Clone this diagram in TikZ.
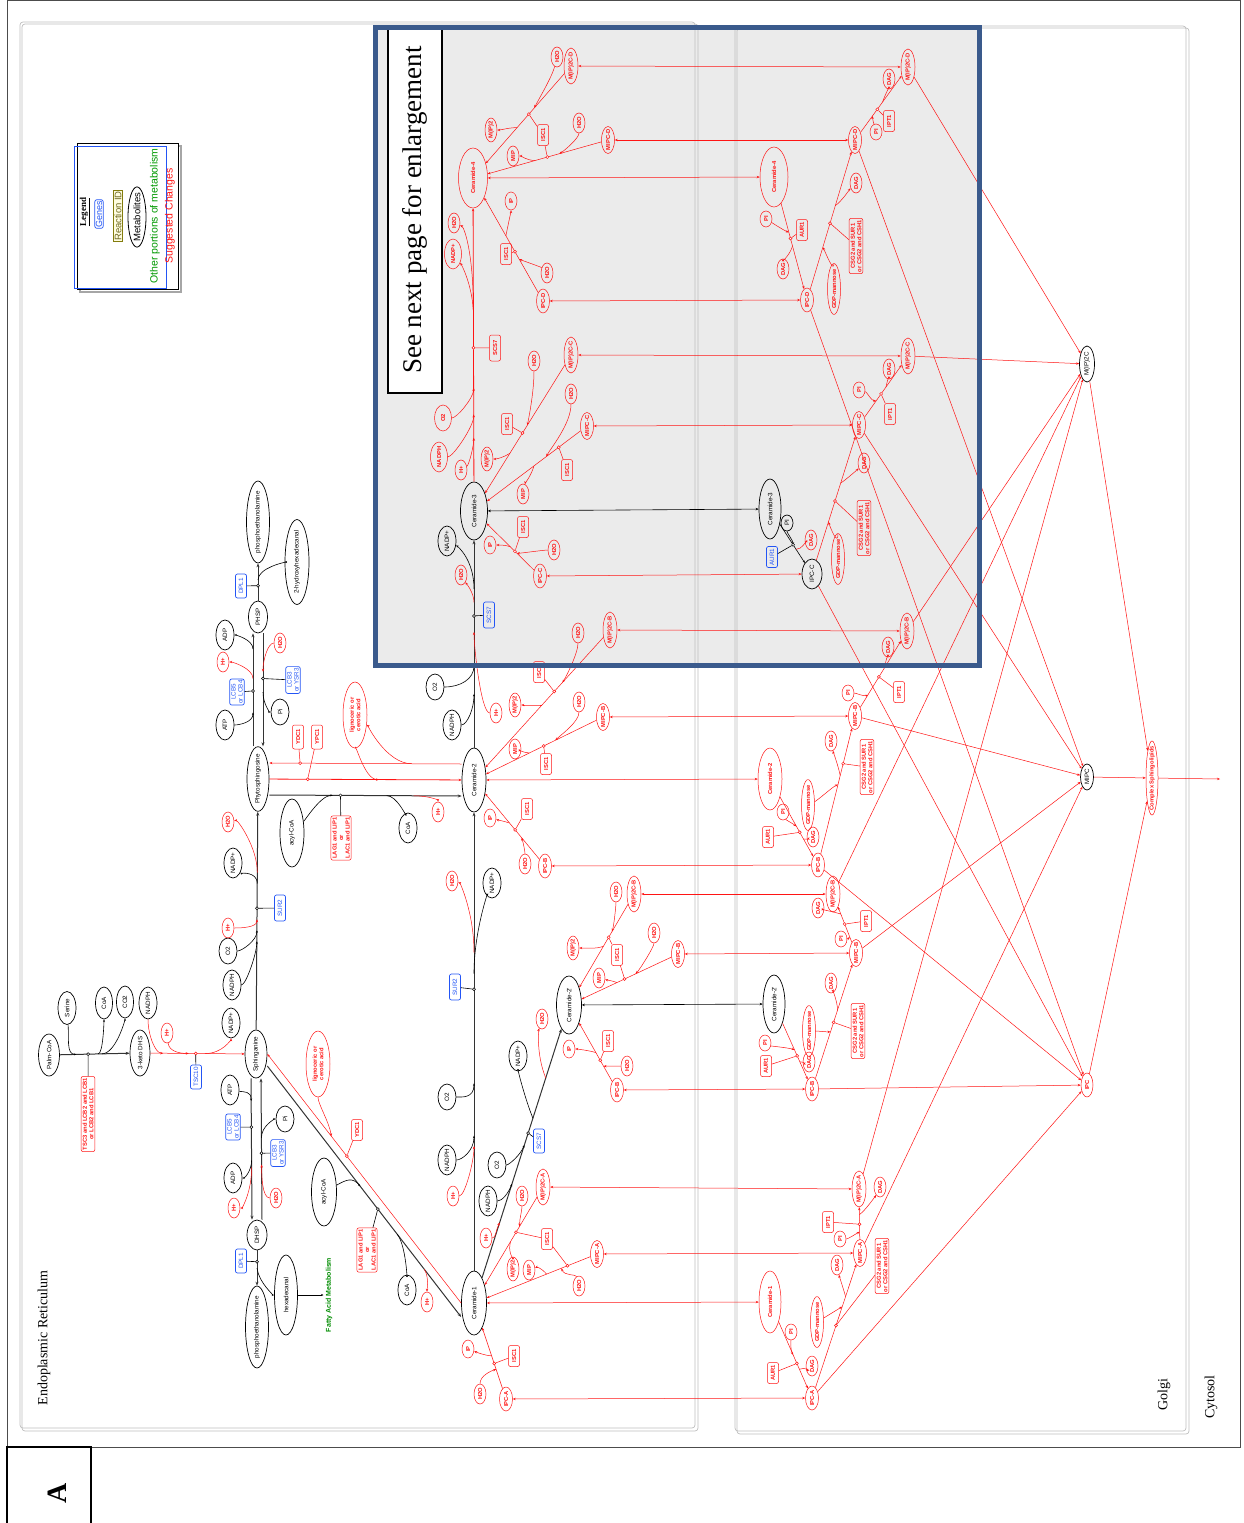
\documentclass[tikz,border=0pt]{standalone}
\usepackage{fontspec}
\setmainfont{Liberation Sans}
\newfontfamily\timesfont{Liberation Serif}
\usetikzlibrary{shapes.geometric, arrows.meta, calc}
\definecolor{sugRed}{RGB}{255,20,20}
\definecolor{geneBlue}{RGB}{35,85,245}
\definecolor{boxGray}{RGB}{235,235,235}
\definecolor{boxBlue}{RGB}{58,90,140}
\definecolor{frameGray}{RGB}{190,190,190}

\begin{document}
\begin{tikzpicture}[
  x=1pt, y=-1pt,
  met/.style={ellipse, draw, line width=0.7pt, rotate=90, font=\fontsize{6.3}{7}\selectfont,
              inner xsep=-2pt, inner ysep=0pt, minimum width=30pt, minimum height=18pt},
  rmet/.style={ellipse, draw=sugRed, line width=0.5pt, rotate=90, text=sugRed, align=center,
               font=\fontsize{5.8}{6.5}\selectfont\bfseries, inner xsep=-2pt, inner ysep=0pt,
               minimum width=20pt, minimum height=12pt},
  ipcs/.style={rmet, minimum width=24pt, minimum height=13pt},
  mipcs/.style={rmet, minimum width=27pt, minimum height=13pt},
  m2cs/.style={rmet, minimum width=36pt, minimum height=14pt},
  gdps/.style={rmet, minimum width=50pt, minimum height=13pt},
  gene/.style={rectangle, rounded corners=2pt, draw=geneBlue, line width=0.7pt, text=geneBlue,
               rotate=90, font=\fontsize{6.3}{7}\selectfont, align=center, inner sep=1.5pt,
               minimum width=24pt, minimum height=11pt},
  rgene/.style={rectangle, rounded corners=2pt, draw=sugRed, line width=0.5pt, text=sugRed,
                rotate=90, font=\fontsize{5.8}{6.5}\selectfont\bfseries, align=center,
                inner sep=1.5pt, minimum width=21pt, minimum height=11pt},
  rxdot/.style={circle, draw, fill=white, inner sep=0pt, minimum size=3pt, line width=0.5pt},
  rxrdot/.style={rxdot, draw=sugRed},
  arr/.style={-{Stealth[length=4pt,width=3pt]}, line width=1pt, black!80},
  barr/.style={{Stealth[length=3pt,width=2.5pt]}-{Stealth[length=3pt,width=2.5pt]}, line width=0.6pt},
  sarr/.style={-{Stealth[length=2.5pt,width=2pt]}, line width=0.6pt},
  rarr/.style={-{Stealth[length=3pt,width=2.4pt]}, sugRed, line width=0.5pt},
  rboth/.style={{Stealth[length=3pt,width=2.4pt]}-{Stealth[length=3pt,width=2.4pt]}, sugRed, line width=0.5pt},
  gl/.style={line width=0.6pt},
  rgl/.style={sugRed, line width=0.5pt},
]
\useasboundingbox (0,0) rectangle (1243,1523);

%% Frames
\fill[boxGray] (373,25) rectangle (982,668);
\draw[black!70, line width=0.8pt] (7,0.5) rectangle (1240,1447);
\draw[black, line width=1.2pt] (7,1447) rectangle (91,1530);
\draw[frameGray, line width=0.7pt, rounded corners=3pt] (20,22) rectangle (695,1428);
\draw[frameGray, line width=0.7pt, rounded corners=3pt] (22,24) rectangle (698,1431);
\draw[frameGray, line width=0.7pt, rounded corners=3pt] (735,26) rectangle (1186,1431);
\draw[frameGray, line width=0.7pt, rounded corners=3pt] (737,28) rectangle (1189,1434);

\node[rotate=90, font=\timesfont\fontsize{14}{16}\selectfont] (erLabel) at (44,1338) {Endoplasmic Reticulum};
\node[rotate=90, font=\timesfont\fontsize{14}{16}\selectfont] (golgiLabel) at (1164,1395) {Golgi};
\node[rotate=90, font=\timesfont\fontsize{14}{16}\selectfont] (cytoLabel) at (1211,1397) {Cytosol};
\node[rotate=90, font=\timesfont\bfseries\fontsize{28}{30}\selectfont] (panelA) at (57,1493) {A};

%% Legend
\draw[black!35, line width=1.5pt] (80,146) rectangle (181,292);
\draw[fill=white, line width=0.8pt] (77,143) rectangle (178,289);
\draw[geneBlue, line width=0.8pt] (74,146) rectangle (166,288);
\node[rotate=90, font=\timesfont\bfseries\fontsize{9}{10}\selectfont] (lgTitle) at (85,212) {\underline{Legend}};
\node[gene, font=\fontsize{9}{10}\selectfont, inner sep=1pt, minimum width=0pt, minimum height=0pt] (lgGene) at (99,214) {Genes};
\node[rotate=90, draw=olive!90!black, fill=yellow!12, text=olive!70!black, line width=0.8pt,
      font=\fontsize{9.5}{10}\selectfont, inner sep=1pt] (lgRxn) at (118,216) {Reaction ID};
\node[ellipse, draw, line width=0.8pt, rotate=90, font=\fontsize{9.5}{10}\selectfont,
      inner xsep=-3pt, inner ysep=0pt, minimum height=18pt] (lgMet) at (137,217) {Metabolites};
\node[rotate=90, text=green!60!black, font=\fontsize{10.5}{11}\selectfont] (lgOther) at (155,216) {Other portions of metabolism};
\node[rotate=90, text=sugRed, font=\fontsize{10.5}{11}\selectfont] (lgSug) at (170,216) {Suggested Changes};

%% Sphingoid base synthesis
\node[met, minimum width=42pt, minimum height=21pt] (palm) at (49,1055) {Palm-CoA};
\node[met, minimum width=33pt] (serine) at (67,1008) {Serine};
\node[met, minimum width=32pt, minimum height=17pt] (coa0) at (104,1003) {CoA};
\node[met, minimum width=32pt, minimum height=17pt] (co2) at (125,1002) {CO2};
\node[met, minimum width=32pt] (nadph0) at (148,1003) {NADPH};
\node[met, minimum width=46pt, minimum height=20pt] (kdhs) at (140,1053) {3-keto DHS};
\node[rgene] (tsc3) at (88,1114) {TSC3 and LCB2 and LCB1\\or LCB2 and LCB1};
\node[gene] (tsc10) at (196,1077) {TSC10};
\node[rmet] (hp0) at (167,1033) {H+};
\node[met] (nadp0) at (231,1023) {NADP+};
\node[met, minimum width=48pt, minimum height=22pt] (sa) at (256,1054) {Sphinganine};

\draw[arr] (palm) -- (kdhs);
\draw[sarr] (serine) .. controls +(2,30) and +(-10,0) .. ($(palm)!0.3!(kdhs)$);
\draw[sarr] ($(palm)!0.54!(kdhs)$) .. controls +(5,0) and +(0,18) .. (coa0);
\draw[sarr] ($(palm)!0.58!(kdhs)$) .. controls +(14,0) and +(0,18) .. (co2);
\node[rxdot] (dT0) at ($(palm)!0.43!(kdhs)$) {};
\draw[gl] (dT0) -- (tsc3);
\draw[rarr] (kdhs) -- (sa);
\draw[rarr] (nadph0) .. controls +(0,32) and +(-8,0) .. ($(kdhs)!0.2!(sa)$);
\draw[rarr] (hp0) .. controls +(2,18) and +(-10,0) .. ($(kdhs)!0.42!(sa)$);
\draw[rarr] ($(kdhs)!0.56!(sa)$) .. controls +(18,0) and +(0,16) .. (nadp0);
\node[rxrdot] (dT1) at ($(kdhs)!0.48!(sa)$) {};
\draw[gl] (dT1) -- (tsc10);

%% Sphinganine <-> DHSP
\node[met, minimum width=30pt] (atp1) at (230,1090) {ATP};
\node[gene] (lcb5a) at (233,1127) {LCB5\\or LCB4};
\node[met, minimum width=30pt] (adp1) at (233,1178) {ADP};
\node[rmet] (hp1) at (234,1208) {H+};
\node[met, minimum width=26pt] (pi1) at (285,1119) {Pi};
\node[gene] (lcb3a) at (278,1153) {LCB3\\or YSR3};
\node[rmet] (w1) at (276,1198) {H2O};
\node[met, minimum width=30pt, minimum height=20pt] (dhsp) at (257,1235) {DHSP};

\coordinate (saL) at ([xshift=-5pt]sa.west);
\coordinate (dhL) at ([xshift=-5pt]dhsp.east);
\coordinate (saR) at ([xshift=5pt]sa.west);
\coordinate (dhR) at ([xshift=5pt]dhsp.east);
\draw[arr] (saL) -- (dhL);
\draw[arr] (dhR) -- (saR);
\draw[sarr] (atp1) .. controls +(14,2) and +(0,-10) .. ($(saL)!0.16!(dhL)$);
\draw[sarr] ($(saL)!0.58!(dhL)$) .. controls +(0,10) and +(12,0) .. (adp1);
\draw[rarr] ($(saL)!0.63!(dhL)$) .. controls +(0,25) and +(8,0) .. (hp1);
\node[rxdot] (dL1) at ($(saL)!0.345!(dhL)$) {};
\draw[gl] (lcb5a) -- (dL1);
\draw[rarr] (w1) .. controls +(-14,0) and +(0,10) .. ($(dhR)!0.39!(saR)$);
\draw[sarr] ($(dhR)!0.58!(saR)$) .. controls +(0,-12) and +(-10,0) .. (pi1);
\node[rxdot] (dR1) at ($(dhR)!0.47!(saR)$) {};
\draw[gl] (lcb3a) -- (dR1);

\node[gene] (dpl1a) at (241,1261) {DPL1};
\node[met, minimum width=80pt, minimum height=23pt] (pea1) at (257,1327) {phosphoethanolamine};
\node[met, minimum width=80pt, minimum height=23pt] (hexa) at (286,1295) {hexadecanal};
\node[rotate=90, text=green!55!black, font=\fontsize{7}{8}\selectfont\bfseries, inner sep=2pt] (fam) at (329,1295) {Fatty Acid Metabolism};
\draw[arr, line width=0.8pt] (dhsp) -- (pea1);
\draw[sarr] ($(dhsp)!0.36!(pea1)$) .. controls +(2,15) and +(-12,0) .. (hexa);
\node[rxdot] (dD1) at ($(dhsp)!0.29!(pea1)$) {};
\draw[gl] (dpl1a) -- (dD1);
\draw[sarr] (hexa) -- (fam);

%% Sphinganine -> Phytosphingosine
\node[met, minimum width=62pt, minimum height=22pt] (phs) at (258,779) {Phytosphingosine};
\node[met, minimum width=30pt] (nadph1) at (232,985) {NADPH};
\node[met, minimum width=26pt] (o2a) at (228,951) {O2};
\node[rmet] (hp2) at (228,928) {H+};
\node[gene, minimum width=26pt] (sur2a) at (280,908) {SUR2};
\node[met, minimum width=30pt] (nadp1) at (233,863) {NADP+};
\node[rmet] (w2) at (228,822) {H2O};
\draw[arr] (sa) -- (phs);
\draw[sarr] (nadph1) .. controls +(14,0) and +(0,12) .. ($(sa)!0.41!(phs)$);
\draw[sarr] (o2a) .. controls +(14,0) and +(0,10) .. ($(sa)!0.45!(phs)$);
\draw[rarr] (hp2) .. controls +(14,0) and +(0,8) .. ($(sa)!0.49!(phs)$);
\draw[sarr] ($(sa)!0.62!(phs)$) .. controls +(0,-12) and +(8,10) .. (nadp1);
\draw[rarr] ($(sa)!0.66!(phs)$) .. controls +(0,-25) and +(10,-2) .. (w2);
\node[rxdot] (dP1) at ($(sa)!0.53!(phs)$) {};
\draw[gl] (sur2a) -- (dP1);

%% Phytosphingosine <-> PHSP
\node[met, minimum width=32pt, minimum height=19pt] (phsp) at (258,617) {PHSP};
\node[met, minimum width=30pt] (atp2) at (225,725) {ATP};
\node[gene] (lcb5b) at (237,692) {LCB5\\or LCB4};
\node[met, minimum width=30pt] (adp2) at (225,635) {ADP};
\node[rmet] (hp3) at (223,662) {H+};
\node[rmet] (w3) at (280,643) {H2O};
\node[gene] (lcb3b) at (293,680) {LCB3\\or YSR3};
\node[met, minimum width=26pt] (pi2) at (280,712) {Pi};
\coordinate (phL) at ([xshift=-5pt]phs.east);
\coordinate (psL) at ([xshift=-5pt]phsp.west);
\coordinate (phR) at ([xshift=5pt]phs.east);
\coordinate (psR) at ([xshift=5pt]phsp.west);
\draw[arr] (phL) -- (psL);
\draw[arr] (psR) -- (phR);
\draw[sarr] (atp2) .. controls +(14,0) and +(0,10) .. ($(phL)!0.3!(psL)$);
\draw[rarr] ($(phL)!0.6!(psL)$) .. controls +(0,-10) and +(10,0) .. (hp3);
\draw[sarr] ($(phL)!0.86!(psL)$) .. controls +(0,-10) and +(10,0) .. (adp2);
\node[rxdot] (dL2) at ($(phL)!0.49!(psL)$) {};
\draw[gl] (lcb5b) -- (dL2);
\draw[rarr] (w3) .. controls +(-12,0) and +(0,-12) .. ($(psR)!0.34!(phR)$);
\draw[sarr] ($(psR)!0.52!(phR)$) .. controls +(0,12) and +(-10,0) .. (pi2);
\node[rxdot] (dR2) at ($(psR)!0.4!(phR)$) {};
\draw[gl] (lcb3b) -- (dR2);

\node[gene] (dpl1b) at (241,586) {DPL1};
\node[met, minimum width=78pt, minimum height=23pt] (pea2) at (258,522) {phosphoethanolamine};
\node[met, minimum width=85pt, minimum height=24pt] (hhd) at (297,562) {2-hydroxyhexadecanal};
\draw[arr, line width=0.8pt] (phsp) -- (pea2);
\draw[sarr] ($(phsp)!0.39!(pea2)$) .. controls +(0,-12) and +(-12,0) .. (hhd);
\node[rxdot] (dD2) at ($(phsp)!0.33!(pea2)$) {};
\draw[gl] (dpl1b) -- (dD2);

%% Sphinganine <-> Ceramide-1
\node[met, minimum width=64pt, minimum height=25pt] (cer1) at (474,1303) {Ceramide-1};
\node[rmet, minimum width=66pt, minimum height=24pt] (lig1) at (318,1064) {lignoceric or\\cerotic acid};
\node[rgene] (ydc1a) at (357,1130) {YDC1};
\node[met, minimum width=68pt, minimum height=25pt] (acyl1) at (324,1192) {acyl-CoA};
\node[rgene] (lag1a) at (367,1250) {LAG1 and LIP1\\or\\LAC1 and LIP1};
\node[met, minimum width=30pt] (coa1) at (407,1290) {CoA};
\node[rmet] (hp4) at (427,1302) {H+};
\coordinate (saB) at ([yshift=-12pt]sa.south);
\coordinate (c1B) at ([yshift=-14pt]cer1.north);
\draw[arr] (saB) -- (c1B);
\draw[rarr] (cer1.north) -- (sa.south);
\draw[rarr] (lig1) .. controls +(0,40) and +(-2,-14) .. ($(cer1.north)!0.67!(sa.south)$);
\node[rxrdot] (dY1) at ($(cer1.north)!0.59!(sa.south)$) {};
\draw[rgl] (ydc1a) -- (dY1);
\draw[sarr] (acyl1) .. controls +(22,-12) and +(-8,-10) .. ($(saB)!0.48!(c1B)$);
\node[rxdot] (dL3) at ($(saB)!0.57!(c1B)$) {};
\draw[gl] (lag1a) -- (dL3);
\draw[sarr] ($(saB)!0.67!(c1B)$) .. controls +(8,10) and +(0,-15) .. (coa1);
\draw[rarr] ($(saB)!0.81!(c1B)$) .. controls +(5,8) and +(0,-12) .. (hp4);

%% Phytosphingosine <-> Ceramide-2
\node[met, minimum width=64pt, minimum height=24pt] (cer2) at (474,780) {Ceramide-2};
\node[rgene, minimum width=24pt] (ydc1b) at (298,737) {YDC1};
\node[rgene, minimum width=24pt] (ypc1) at (317,737) {YPC1};
\node[rmet, minimum width=66pt, minimum height=24pt] (lig2) at (355,715) {lignoceric or\\cerotic acid};
\node[met, minimum width=68pt, minimum height=24pt] (acyl2) at (292,833) {acyl-CoA};
\node[rgene] (lag1b) at (341,838) {LAG1 and LIP1\\or\\LAC1 and LIP1};
\node[met, minimum width=30pt] (coa2) at (408,828) {CoA};
\node[rmet] (hp5) at (438,812) {H+};
\coordinate (phsT) at ([yshift=16pt]phs.south);
\coordinate (cer2T) at ([yshift=16pt]cer2.north);
\coordinate (phsB) at ([yshift=-16pt]phs.south);
\coordinate (cer2B) at ([yshift=-16pt]cer2.north);
\draw[rarr] (cer2T) -- (phsT);
\draw[rarr, line width=0.8pt] (phs) -- (cer2);
\draw[arr] (phsB) -- (cer2B);
\draw[rarr] ($(cer2T)!0.26!(phsT)$) .. controls +(-25,0) and +(12,10) .. (lig2);
\draw[rarr] (lig2) .. controls +(0,25) and +(-15,0) .. ($(phs)!0.56!(cer2)$);
\node[rxrdot] (dY2) at ($(cer2T)!0.84!(phsT)$) {};
\draw[rgl] (ydc1b) -- (dY2);
\node[rxrdot] (dY3) at ($(phs)!0.23!(cer2)$) {};
\draw[rgl] (ypc1) -- (dY3);
\draw[sarr] (acyl2) .. controls +(14,-14) and +(-12,0) .. ($(phsB)!0.33!(cer2B)$);
\node[rxdot] (dL4) at ($(phsB)!0.37!(cer2B)$) {};
\draw[gl] (lag1b) -- (dL4);
\draw[sarr] ($(phsB)!0.61!(cer2B)$) .. controls +(10,0) and +(-2,-12) .. (coa2);
\draw[rarr] ($(phsB)!0.75!(cer2B)$) .. controls +(15,0) and +(0,-12) .. (hp5);

%% Ceramide-1 -> Ceramide-2 and Ceramide-2'
\node[met, minimum width=30pt] (nadph2) at (447,1160) {NADPH};
\node[met, minimum width=26pt] (o2b) at (447,1097) {O2};
\node[rmet] (hp6) at (453,1196) {H+};
\node[gene, minimum width=26pt] (sur2b) at (455,987) {SUR2};
\node[met, minimum width=30pt] (nadp2) at (492,883) {NADP+};
\node[rmet] (w4) at (452,881) {H2O};
\draw[arr] (cer1) -- (cer2);
\draw[sarr] (nadph2) .. controls +(15,0) and +(0,15) .. ($(cer1)!0.32!(cer2)$);
\draw[rarr] (hp6) .. controls +(12,0) and +(0,15) .. ($(cer1)!0.3!(cer2)$);
\draw[sarr] (o2b) .. controls +(15,0) and +(0,15) .. ($(cer1)!0.42!(cer2)$);
\node[rxdot] (dS1) at ($(cer1)!0.6!(cer2)$) {};
\draw[gl] (sur2b) -- (dS1);
\draw[sarr] ($(cer1)!0.63!(cer2)$) .. controls +(0,-40) and +(-5,12) .. (nadp2);
\draw[rarr] ($(cer1)!0.67!(cer2)$) .. controls +(0,-40) and +(8,2) .. (w4);

\node[met, minimum width=58pt, minimum height=25pt] (cer2p) at (569,1005) {Ceramide-2'};
\node[met, minimum width=30pt] (nadph3) at (488,1201) {NADPH};
\node[met, minimum width=26pt] (o2c) at (497,1165) {O2};
\node[rmet] (hp7) at (486,1238) {H+};
\node[gene, minimum width=24pt] (scs7a) at (539,1141) {SCS7};
\node[met, minimum width=30pt] (nadp3) at (518,1056) {NADP+};
\node[rmet] (w5) at (542,1019) {H2O};
\draw[arr] (cer1) -- (cer2p);
\draw[rarr] (hp7) .. controls +(10,0) and +(-4,8) .. ($(cer1)!0.27!(cer2p)$);
\draw[sarr] (nadph3) .. controls +(14,0) and +(-4,10) .. ($(cer1)!0.4!(cer2p)$);
\draw[sarr] (o2c) .. controls +(12,0) and +(-4,10) .. ($(cer1)!0.53!(cer2p)$);
\node[rxdot] (dS2) at ($(cer1)!0.57!(cer2p)$) {};
\draw[gl] (scs7a) -- (dS2);
\draw[sarr] ($(cer1)!0.62!(cer2p)$) .. controls +(-8,-20) and +(0,15) .. (nadp3);
\draw[rarr] ($(cer1)!0.755!(cer2p)$) .. controls +(-10,-25) and +(-3,10) .. (w5);

%% Ceramide-2 -> Ceramide-3 -> Ceramide-4
\node[met, minimum width=58pt, minimum height=27pt] (cer3) at (474,511) {Ceramide-3};
\node[met, minimum width=30pt] (nadph4) at (452,725) {NADPH};
\node[met, minimum width=26pt] (o2d) at (435,687) {O2};
\node[rmet] (hp8) at (496,713) {H+};
\node[gene, minimum width=26pt] (scs7b) at (489,615) {SCS7};
\node[rmet] (w6) at (461,575) {H2O};
\node[met, minimum width=30pt] (nadp4) at (447,541) {NADP+};
\draw[arr] (cer2) -- (cer3);
\draw[sarr] (nadph4) .. controls +(15,0) and +(0,15) .. ($(cer2)!0.32!(cer3)$);
\draw[sarr] (o2d) .. controls +(25,0) and +(0,15) .. ($(cer2)!0.43!(cer3)$);
\draw[rarr] (hp8) .. controls +(-15,0) and +(0,15) .. ($(cer2)!0.55!(cer3)$);
\node[rxdot] (dS3) at ($(cer2)!0.61!(cer3)$) {};
\draw[gl] (scs7b) -- (dS3);
\draw[rarr] ($(cer2)!0.66!(cer3)$) .. controls +(0,-10) and +(5,8) .. (w6);
\draw[sarr] ($(cer2)!0.71!(cer3)$) .. controls +(0,-30) and +(10,5) .. (nadp4);

\node[rmet, minimum width=60pt, minimum height=29pt] (cer4) at (473,178) {Ceramide-4};
\node[rmet] (hp9) at (461,470) {H+};
\node[rmet, minimum width=30pt, minimum height=17pt] (nadph5) at (439,457) {NADPH};
\node[rmet, minimum width=26pt, minimum height=17pt] (o2e) at (443,418) {O2};
\node[rgene, minimum width=26pt] (scs7c) at (495,348) {SCS7};
\node[rmet, minimum width=30pt, minimum height=17pt] (nadp5) at (453,254) {NADP+};
\node[rmet] (w7) at (454,223) {H2O};
\draw[rarr, line width=0.8pt] (cer3) -- (cer4);
\draw[rarr] (hp9) .. controls +(8,-5) and +(0,8) .. ($(cer3)!0.22!(cer4)$);
\draw[rarr] (nadph5) .. controls +(14,0) and +(0,12) .. ($(cer3)!0.29!(cer4)$);
\draw[rarr] (o2e) .. controls +(14,0) and +(0,10) .. ($(cer3)!0.37!(cer4)$);
\node[rxrdot] (dS4) at ($(cer3)!0.49!(cer4)$) {};
\draw[rgl] (scs7c) -- (dS4);
\draw[rarr] ($(cer3)!0.585!(cer4)$) .. controls +(0,-30) and +(8,10) .. (nadp5);
\draw[rarr] ($(cer3)!0.6!(cer4)$) .. controls +(0,-60) and +(10,4) .. (w7);

%% Ceramide-1 branch (ER and Golgi)
\node[ipcs] (ipcA) at (506,1399) {IPC-A};
\node[rmet] (w8) at (480,1394) {H2O};
\node[rmet, minimum width=18pt] (ip1) at (468,1349) {IP};
\node[rgene] (isc1a) at (514,1356) {ISC1};
\draw[rarr] (ipcA) -- (cer1);
\draw[rarr] (w8) .. controls +(0,-18) and +(-6,2) .. ($(ipcA)!0.31!(cer1)$);
\draw[rarr] ($(ipcA)!0.45!(cer1)$) .. controls +(-6,0) and +(8,3) .. (ip1);
\node[rxrdot] (dI1) at ($(ipcA)!0.37!(cer1)$) {};
\draw[rgl] (isc1a) -- (dI1);

\node[m2cs] (m2cA) at (543,1187) {M(IP)2C-A};
\node[rmet] (w9) at (522,1196) {H2O};
\node[rgene] (isc1b) at (547,1239) {ISC1};
\node[rmet, minimum width=24pt] (mip2a) at (513,1269) {M(IP)2};
\draw[rarr] (m2cA) -- (cer1);
\draw[rarr] (w9) .. controls +(0,15) and +(0,-8) .. ($(m2cA)!0.34!(cer1)$);
\draw[rarr] ($(m2cA)!0.47!(cer1)$) .. controls +(-3,10) and +(0,-10) .. (mip2a);
\node[rxrdot] (dI2) at ($(m2cA)!0.39!(cer1)$) {};
\draw[rgl] (isc1b) -- (dI2);

\node[mipcs] (mipcA) at (597,1254) {MIPC-A};
\node[rmet, minimum width=20pt] (mip1) at (529,1270) {MIP};
\node[rmet] (w10) at (579,1286) {H2O};
\draw[rarr] (mipcA) -- (cer1);
\draw[rarr] (w10) .. controls +(-3,-12) and +(3,8) .. ($(mipcA)!0.29!(cer1)$);
\draw[rarr] ($(mipcA)!0.41!(cer1)$) .. controls +(-5,-6) and +(8,-3) .. (mip1);
\node[rxrdot] (dI3) at ($(mipcA)!0.24!(cer1)$) {};
\draw[rgl] (isc1b) -- (dI3);

\node[rmet, minimum width=62pt, minimum height=22pt] (cer1g) at (770,1302) {Ceramide-1};
\node[rmet, minimum width=16pt] (pi3) at (791,1332) {PI};
\node[rgene] (aur1a) at (773,1373) {AUR1};
\node[rmet] (dag1) at (812,1366) {DAG};
\node[ipcs] (ipcAg) at (812,1398) {IPC-A};
\draw[rboth] (cer1) -- (cer1g);
\draw[rarr] (cer1g) -- (ipcAg);
\draw[rarr] (pi3) .. controls +(0,10) and +(-3,-6) .. ($(cer1g)!0.55!(ipcAg)$);
\node[rxrdot] (dA1) at ($(cer1g)!0.64!(ipcAg)$) {};
\draw[rgl] (aur1a) -- (dA1);
\draw[rarr] ($(cer1g)!0.7!(ipcAg)$) .. controls +(6,-2) and +(-4,4) .. (dag1);

\node[gdps] (gdp1) at (817,1322) {GDP-mannose};
\node[rmet] (dag2) at (837,1265) {DAG};
\node[rgene] (csg1) at (882,1266) {CSG2 and SUR1\\or CSG2 and CSH1};
\node[mipcs] (mipcAg) at (860,1253) {MIPC-A};
\draw[rarr] (ipcAg) -- (mipcAg);
\draw[rarr] (gdp1) .. controls +(10,-6) and +(-5,3) .. ($(ipcAg)!0.63!(mipcAg)$);
\draw[rarr] ($(ipcAg)!0.7!(mipcAg)$) .. controls +(-3,-10) and +(2,10) .. (dag2);
\node[rxrdot] (dC1) at ($(ipcAg)!0.5!(mipcAg)$) {};
\draw[rgl] (csg1) -- (dC1);

\node[rgene] (ipt1a) at (828,1222) {IPT1};
\node[rmet, minimum width=16pt] (pi4) at (840,1239) {PI};
\node[rmet] (dag3) at (880,1187) {DAG};
\node[m2cs] (m2cAg) at (859,1189) {M(IP)2C-A};
\draw[rarr] (mipcAg) -- (m2cAg);
\draw[rarr] (pi4) .. controls +(8,0) and +(-4,2) .. ($(mipcAg)!0.33!(m2cAg)$);
\draw[rarr] ($(mipcAg)!0.6!(m2cAg)$) .. controls +(6,-4) and +(-4,8) .. (dag3);
\node[rxrdot] (dT2) at ($(mipcAg)!0.45!(m2cAg)$) {};
\draw[rgl] (ipt1a) -- (dT2);

\draw[rboth] (ipcA) -- (ipcAg);
\draw[rboth] (mipcA) -- (mipcAg);
\draw[rboth] (m2cA) -- (m2cAg);

%% Ceramide-2' branch
\node[ipcs] (ipcB1) at (617,1090) {IPC-B};
\node[rmet, minimum width=18pt] (ip2) at (569,1049) {IP};
\node[rgene] (isc1c) at (608,1041) {ISC1};
\node[rmet] (w11) at (627,1066) {H2O};
\draw[rarr] (ipcB1) -- (cer2p);
\draw[rarr] (w11) .. controls +(-8,0) and +(5,0) .. ($(ipcB1)!0.28!(cer2p)$);
\draw[rarr] ($(ipcB1)!0.44!(cer2p)$) .. controls +(-6,-2) and +(8,0) .. (ip2);
\node[rxrdot] (dI4) at ($(ipcB1)!0.35!(cer2p)$) {};
\draw[rgl] (isc1c) -- (dI4);

\node[m2cs] (m2cB1) at (634,894) {M(IP)2C-B};
\node[rmet] (w12) at (616,892) {H2O};
\node[rgene] (isc1d) at (617,955) {ISC1};
\node[rmet, minimum width=24pt] (mip2b) at (573,948) {M(IP)2};
\draw[rarr] (m2cB1) -- (cer2p);
\draw[rarr] (w12) .. controls +(0,14) and +(2,-6) .. ($(m2cB1)!0.34!(cer2p)$);
\draw[rarr] ($(m2cB1)!0.47!(cer2p)$) .. controls +(-6,3) and +(10,0) .. (mip2b);
\node[rxrdot] (dI5) at ($(m2cB1)!0.39!(cer2p)$) {};
\draw[rgl] (isc1d) -- (dI5);

\node[mipcs] (mipcB1) at (678,954) {MIPC-B};
\node[rmet, minimum width=20pt] (mip3) at (599,978) {MIP};
\node[rmet] (w13) at (654,933) {H2O};
\draw[rarr] (mipcB1) -- (cer2p);
\draw[rarr] (w13) .. controls +(0,14) and +(4,-4) .. ($(mipcB1)!0.39!(cer2p)$);
\draw[rarr] ($(mipcB1)!0.56!(cer2p)$) .. controls +(-5,-2) and +(8,2) .. (mip3);
\node[rxrdot] (dI6) at ($(mipcB1)!0.49!(cer2p)$) {};
\draw[rgl] (isc1d) -- (dI6);

\node[met, minimum width=58pt, minimum height=22pt] (cer2pg) at (774,1004) {Ceramide-2'};
\node[rmet, minimum width=16pt] (pi5) at (765,1043) {PI};
\node[rgene] (aur1b) at (766,1066) {AUR1};
\node[rmet] (dag4) at (809,1062) {DAG};
\node[ipcs] (ipcB1g) at (812,1089) {IPC-B};
\draw[barr] (cer2p) -- (cer2pg);
\draw[rarr] (cer2pg) -- (ipcB1g);
\draw[rarr] (pi5) .. controls +(6,3) and +(-5,-2) .. ($(cer2pg)!0.54!(ipcB1g)$);
\node[rxrdot] (dA2) at ($(cer2pg)!0.61!(ipcB1g)$) {};
\draw[rgl] (aur1b) -- (dA2);
\draw[rarr] ($(cer2pg)!0.68!(ipcB1g)$) .. controls +(5,0) and +(-5,2) .. (dag4);

\node[gdps] (gdp2) at (809,1031) {GDP-mannose};
\node[rmet] (dag5) at (831,983) {DAG};
\node[rgene] (csg2) at (858,1031) {CSG2 and SUR1\\or CSG2 and CSH1};
\node[mipcs] (mipcB1g) at (856,953) {MIPC-B};
\draw[rarr] (ipcB1g) -- (mipcB1g);
\draw[rarr] (gdp2) .. controls +(8,0) and +(-4,0) .. ($(ipcB1g)!0.42!(mipcB1g)$);
\draw[rarr] ($(ipcB1g)!0.58!(mipcB1g)$) .. controls +(0,-8) and +(2,8) .. (dag5);
\node[rxrdot] (dC2) at ($(ipcB1g)!0.49!(mipcB1g)$) {};
\draw[rgl] (csg2) -- (dC2);

\node[rmet, minimum width=16pt] (pi6) at (841,939) {PI};
\node[rgene] (ipt1b) at (866,921) {IPT1};
\node[rmet] (dag6) at (818,908) {DAG};
\node[m2cs] (m2cB1g) at (833,894) {M(IP)2C-B};
\draw[rarr] (mipcB1g) -- (m2cB1g);
\draw[rarr] (pi6) .. controls +(4,0) and +(-2,2) .. ($(mipcB1g)!0.27!(m2cB1g)$);
\draw[rarr] ($(mipcB1g)!0.66!(m2cB1g)$) .. controls +(-6,-2) and +(6,2) .. (dag6);
\node[rxrdot] (dT3) at ($(mipcB1g)!0.49!(m2cB1g)$) {};
\draw[rgl] (ipt1b) -- (dT3);

\draw[rboth] (ipcB1) -- (ipcB1g);
\draw[rboth] (mipcB1) -- (mipcB1g);
\draw[rboth] (m2cB1) -- (m2cB1g);

%% Ceramide-2 branch
\node[ipcs] (ipcB2) at (545,866) {IPC-B};
\node[rmet, minimum width=18pt] (ip3) at (490,818) {IP};
\node[rgene] (isc1e) at (527,809) {ISC1};
\node[rmet] (w14) at (525,864) {H2O};
\draw[rarr] (ipcB2) -- (cer2);
\draw[rarr] (w14) .. controls +(0,-12) and +(2,6) .. ($(ipcB2)!0.33!(cer2)$);
\draw[rarr] ($(ipcB2)!0.5!(cer2)$) .. controls +(-6,-2) and +(8,2) .. (ip3);
\node[rxrdot] (dI7) at ($(ipcB2)!0.42!(cer2)$) {};
\draw[rgl] (isc1e) -- (dI7);

\node[m2cs] (m2cB2) at (610,630) {M(IP)2C-B};
\node[rmet] (w15) at (578,633) {H2O};
\node[rgene] (isc1f) at (539,672) {ISC1};
\node[rmet, minimum width=24pt] (mip2c) at (515,705) {M(IP)2};
\draw[rarr] (m2cB2) -- (cer2);
\draw[rarr] (w15) .. controls +(0,20) and +(4,-6) .. ($(m2cB2)!0.35!(cer2)$);
\draw[rarr] ($(m2cB2)!0.5!(cer2)$) .. controls +(-8,0) and +(10,0) .. (mip2c);
\node[rxrdot] (dI8) at ($(m2cB2)!0.41!(cer2)$) {};
\draw[rgl] (isc1f) -- (dI8);

\node[mipcs] (mipcB2) at (603,717) {MIPC-B};
\node[rmet, minimum width=20pt] (mip4) at (515,749) {MIP};
\node[rmet] (w16) at (579,702) {H2O};
\node[rgene] (isc1g) at (546,764) {ISC1};
\draw[rarr] (mipcB2) -- (cer2);
\draw[rarr] (w16) .. controls +(0,20) and +(5,-5) .. ($(mipcB2)!0.37!(cer2)$);
\draw[rarr] ($(mipcB2)!0.57!(cer2)$) .. controls +(-4,0) and +(6,2) .. (mip4);
\node[rxrdot] (dI9) at ($(mipcB2)!0.46!(cer2)$) {};
\draw[rgl] (isc1g) -- (dI9);

\node[rmet, minimum width=62pt, minimum height=24pt] (cer2g) at (770,779) {Ceramide-2};
\node[rmet, minimum width=16pt] (pi7) at (783,812) {PI};
\node[rgene] (aur1c) at (768,837) {AUR1};
\node[rmet] (dag7) at (813,837) {DAG};
\node[ipcs] (ipcB2g) at (818,865) {IPC-B};
\draw[rboth] (cer2) -- (cer2g);
\draw[rarr] (cer2g) -- (ipcB2g);
\draw[rarr] (pi7) .. controls +(3,8) and +(-4,-3) .. ($(cer2g)!0.55!(ipcB2g)$);
\node[rxrdot] (dA3) at ($(cer2g)!0.62!(ipcB2g)$) {};
\draw[rgl] (aur1c) -- (dA3);
\draw[rarr] ($(cer2g)!0.7!(ipcB2g)$) .. controls +(5,0) and +(-5,2) .. (dag7);

\node[gdps] (gdp3) at (808,805) {GDP-mannose};
\node[rmet] (dag8) at (831,741) {DAG};
\node[rgene] (csg3) at (867,767) {CSG2 and SUR1\\or CSG2 and CSH1};
\node[mipcs] (mipcB2g) at (855,716) {MIPC-B};
\draw[rarr] (ipcB2g) -- (mipcB2g);
\draw[rarr] (gdp3) .. controls +(10,-5) and +(-5,2) .. ($(ipcB2g)!0.54!(mipcB2g)$);
\draw[rarr] ($(ipcB2g)!0.6!(mipcB2g)$) .. controls +(-2,-10) and +(2,10) .. (dag8);
\node[rxrdot] (dC3) at ($(ipcB2g)!0.68!(mipcB2g)$) {};
\draw[rgl] (csg3) -- (dC3);

\node[rmet, minimum width=16pt] (pi8) at (848,693) {PI};
\node[rgene] (ipt1c) at (899,692) {IPT1};
\node[rmet] (dag9) at (888,647) {DAG};
\node[m2cs] (m2cB2g) at (907,631) {M(IP)2C-B};
\draw[rarr] (mipcB2g) -- (m2cB2g);
\draw[rarr] (pi8) .. controls +(8,0) and +(-4,2) .. ($(mipcB2g)!0.25!(m2cB2g)$);
\draw[rarr] ($(mipcB2g)!0.58!(m2cB2g)$) .. controls +(0,-6) and +(0,8) .. (dag9);
\node[rxrdot] (dT4) at ($(mipcB2g)!0.46!(m2cB2g)$) {};
\draw[rgl] (ipt1c) -- (dT4);

\draw[rboth] (ipcB2) -- (ipcB2g);
\draw[rboth] (mipcB2) -- (mipcB2g);
\draw[rboth] (m2cB2) -- (m2cB2g);

%% Ceramide-3 branch
\node[ipcs] (ipcC) at (540,576) {IPC-C};
\node[rmet, minimum width=18pt] (ip4) at (490,545) {IP};
\node[rgene] (isc1h) at (523,527) {ISC1};
\node[rmet] (w17) at (554,550) {H2O};
\draw[rarr] (ipcC) -- (cer3);
\draw[rarr] (w17) .. controls +(-10,0) and +(4,0) .. ($(ipcC)!0.35!(cer3)$);
\draw[rarr] ($(ipcC)!0.45!(cer3)$) .. controls +(-5,-2) and +(8,0) .. (ip4);
\node[rxrdot] (dI10) at ($(ipcC)!0.38!(cer3)$) {};
\draw[rgl] (isc1h) -- (dI10);

\node[m2cs] (m2cC) at (571,355) {M(IP)2C-C};
\node[rmet] (w18) at (534,361) {H2O};
\node[rgene] (isc1i) at (507,424) {ISC1};
\node[rmet, minimum width=24pt] (mip2d) at (487,459) {M(IP)2};
\draw[rarr] (m2cC) -- (cer3);
\draw[rarr] (w18) .. controls +(0,30) and +(2,-10) .. ($(m2cC)!0.45!(cer3)$);
\draw[rarr] ($(m2cC)!0.63!(cer3)$) .. controls +(-6,4) and +(10,0) .. (mip2d);
\node[rxrdot] (dI11) at ($(m2cC)!0.5!(cer3)$) {};
\draw[rgl] (isc1i) -- (dI11);

\node[mipcs] (mipcC) at (587,426) {MIPC-C};
\node[rmet, minimum width=20pt] (mip5) at (523,494) {MIP};
\node[rmet] (w19) at (571,394) {H2O};
\node[rgene] (isc1j) at (567,470) {ISC1};
\draw[rarr] (mipcC) -- (cer3);
\draw[rarr] (w19) .. controls +(0,30) and +(4,-8) .. ($(mipcC)!0.36!(cer3)$);
\draw[rarr] ($(mipcC)!0.47!(cer3)$) .. controls +(-2,8) and +(2,-10) .. (mip5);
\node[rxrdot] (dI12) at ($(mipcC)!0.25!(cer3)$) {};
\draw[rgl] (isc1j) -- (dI12);

\node[met, minimum width=60pt, minimum height=22pt] (cer3g) at (770,509) {Ceramide-3};
\node[met, minimum width=16pt, minimum height=12pt] (pi9) at (787,523) {PI};
\node[gene, minimum width=21pt] (aur1d) at (772,557) {AUR1};
\node[rmet] (dag10) at (811,540) {DAG};
\node[met, minimum width=30pt, minimum height=20pt] (ipcCg) at (812,574) {IPC-C};
\draw[barr] (cer3) -- (cer3g);
\draw[sarr] (cer3g) -- (ipcCg);
\draw[sarr] (pi9) .. controls +(0,10) and +(0,-4) .. ($(cer3g)!0.55!(ipcCg)$);
\node[rxdot] (dA4) at ($(cer3g)!0.55!(ipcCg)$) {};
\draw[gl] (aur1d) -- (dA4);
\draw[rarr] ($(cer3g)!0.62!(ipcCg)$) .. controls +(6,0) and +(-6,2) .. (dag10);

\node[gdps] (gdp4) at (838,559) {GDP-mannose};
\node[rmet] (dag11) at (864,463) {DAG};
\node[rgene] (csg4) at (864,528) {CSG2 and SUR1\\or CSG2 and CSH1};
\node[mipcs] (mipcCg) at (859,425) {MIPC-C};
\draw[rarr] (ipcCg) -- (mipcCg);
\draw[rarr] (gdp4) .. controls +(0,-12) and +(2,6) .. ($(ipcCg)!0.35!(mipcCg)$);
\draw[rarr] ($(ipcCg)!0.61!(mipcCg)$) .. controls +(6,-4) and +(-6,6) .. (dag11);
\node[rxrdot] (dC4) at ($(ipcCg)!0.49!(mipcCg)$) {};
\draw[rgl] (csg4) -- (dC4);

\node[rmet, minimum width=16pt] (pi10) at (859,390) {PI};
\node[rgene] (ipt1d) at (890,414) {IPT1};
\node[rmet] (dag12) at (889,369) {DAG};
\node[m2cs] (m2cCg) at (908,356) {M(IP)2C-C};
\draw[rarr] (mipcCg) -- (m2cCg);
\draw[rarr] (pi10) .. controls +(8,2) and +(-5,0) .. ($(mipcCg)!0.35!(m2cCg)$);
\draw[rarr] ($(mipcCg)!0.55!(m2cCg)$) .. controls +(1,-5) and +(0,6) .. (dag12);
\node[rxrdot] (dT5) at ($(mipcCg)!0.45!(m2cCg)$) {};
\draw[rgl] (ipt1d) -- (dT5);

\draw[rboth] (ipcC) -- (ipcCg);
\draw[rboth] (mipcC) -- (mipcCg);
\draw[rboth] (m2cC) -- (m2cCg);

%% Ceramide-4 branch
\node[ipcs] (ipcD) at (543,301) {IPC-D};
\node[rmet, minimum width=18pt] (ip5) at (511,201) {IP};
\node[rgene] (isc1k) at (506,254) {ISC1};
\node[rmet] (w20) at (547,273) {H2O};
\draw[rarr] (ipcD) -- (cer4);
\draw[rarr] (w20) .. controls +(-6,-6) and +(5,2) .. ($(ipcD)!0.34!(cer4)$);
\draw[rarr] ($(ipcD)!0.53!(cer4)$) .. controls +(2,-10) and +(0,10) .. (ip5);
\node[rxrdot] (dI13) at ($(ipcD)!0.4!(cer4)$) {};
\draw[rgl] (isc1k) -- (dI13);

\node[m2cs] (m2cD) at (571,66) {M(IP)2C-D};
\node[rmet] (w21) at (557,57) {H2O};
\node[rgene] (isc1l) at (543,135) {ISC1};
\node[rmet, minimum width=24pt] (mip2e) at (491,130) {M(IP)2};
\draw[rarr] (m2cD) -- (cer4);
\draw[rarr] (w21) .. controls +(-5,20) and +(4,-8) .. ($(m2cD)!0.375!(cer4)$);
\draw[rarr] ($(m2cD)!0.55!(cer4)$) .. controls +(-8,0) and +(10,0) .. (mip2e);
\node[rxrdot] (dI14) at ($(m2cD)!0.43!(cer4)$) {};
\draw[rgl] (isc1l) -- (dI14);

\node[mipcs] (mipcD) at (608,140) {MIPC-D};
\node[rmet, minimum width=20pt] (mip6) at (513,156) {MIP};
\node[rmet] (w22) at (579,123) {H2O};
\draw[rarr] (mipcD) -- (cer4);
\draw[rarr] (w22) .. controls +(0,15) and +(5,-3) .. ($(mipcD)!0.36!(cer4)$);
\draw[rarr] ($(mipcD)!0.54!(cer4)$) .. controls +(-8,0) and +(8,0) .. (mip6);
\node[rxrdot] (dI15) at ($(mipcD)!0.45!(cer4)$) {};
\draw[rgl] (isc1l) -- (dI15);

\node[rmet, minimum width=60pt, minimum height=28pt] (cer4g) at (774,177) {Ceramide-4};
\node[rmet, minimum width=16pt] (pi11) at (766,219) {PI};
\node[rgene] (aur1e) at (802,230) {AUR1};
\node[rmet] (dag13) at (783,269) {DAG};
\node[ipcs] (ipcDg) at (807,300) {IPC-D};
\draw[rboth] (cer4) -- (cer4g);
\draw[rarr] (cer4g) -- (ipcDg);
\draw[rarr] (pi11) .. controls +(8,5) and +(-5,-2) .. ($(cer4g)!0.45!(ipcDg)$);
\node[rxrdot] (dA5) at ($(cer4g)!0.5!(ipcDg)$) {};
\draw[rgl] (aur1e) -- (dA5);
\draw[rarr] ($(cer4g)!0.56!(ipcDg)$) .. controls +(-2,8) and +(0,-8) .. (dag13);

\node[gdps] (gdp5) at (834,289) {GDP-mannose};
\node[rmet] (dag14) at (856,183) {DAG};
\node[rgene] (csg5) at (856,246) {CSG2 and SUR1\\or CSG2 and CSH1};
\node[mipcs] (mipcDg) at (855,140) {MIPC-D};
\draw[rarr] (ipcDg) -- (mipcDg);
\draw[rarr] (gdp5) .. controls +(0,-15) and +(3,6) .. ($(ipcDg)!0.33!(mipcDg)$);
\draw[rarr] ($(ipcDg)!0.59!(mipcDg)$) .. controls +(6,-4) and +(-6,6) .. (dag14);
\node[rxrdot] (dC5) at ($(ipcDg)!0.48!(mipcDg)$) {};
\draw[rgl] (csg5) -- (dC5);

\node[rmet, minimum width=16pt] (pi12) at (876,132) {PI};
\node[rgene] (ipt1e) at (889,121) {IPT1};
\node[rmet] (dag15) at (889,79) {DAG};
\node[m2cs] (m2cDg) at (908,67) {M(IP)2C-D};
\draw[rarr] (mipcDg) -- (m2cDg);
\draw[rarr] (pi12) .. controls +(-2,-8) and +(0,4) .. ($(mipcDg)!0.33!(m2cDg)$);
\draw[rarr] ($(mipcDg)!0.52!(m2cDg)$) .. controls +(2,-6) and +(0,8) .. (dag15);
\node[rxrdot] (dT6) at ($(mipcDg)!0.42!(m2cDg)$) {};
\draw[rgl] (ipt1e) -- (dT6);

\draw[rboth] (ipcD) -- (ipcDg);
\draw[rboth] (mipcD) -- (mipcDg);
\draw[rboth] (m2cD) -- (m2cDg);

%% Cytosolic pools
\node[met, minimum width=36pt, minimum height=15pt] (m2c) at (1087,364) {M(IP)2C};
\node[met, minimum width=26pt, minimum height=13pt] (mipc) at (1087,777) {MIPC};
\node[rmet, minimum width=24pt, minimum height=12pt] (ipc) at (1087,1085) {IPC};
\node[rmet, minimum width=72pt, minimum height=12pt, inner xsep=-6pt] (csl) at (1152,778) {Complex Sphingolipids};
\coordinate (cslOut) at (1220,779);
\foreach \n in {ipcAg,ipcB1g,ipcB2g,ipcCg,ipcDg} \draw[rarr] (\n) -- (ipc);
\foreach \n in {mipcAg,mipcB1g,mipcB2g,mipcCg,mipcDg} \draw[rarr] (\n) -- (mipc);
\foreach \n in {m2cAg,m2cB1g,m2cB2g,m2cCg,m2cDg} \draw[rarr] (\n) -- (m2c);
\draw[rarr] (mipc) -- (csl);
\draw[rarr] (m2c) -- (csl);
\draw[rarr] (ipc) -- (csl);
\draw[rarr] (csl) -- (cslOut);

%% Enlargement box
\node[draw, line width=1.5pt, fill=white, rotate=90, minimum width=366pt, minimum height=54pt,
      font=\timesfont\fontsize{27}{30}\selectfont] (note) at (415,210) {See next page for enlargement};
\draw[boxBlue, line width=5pt] (375.5,27.5) rectangle (979.5,665.5);
\end{tikzpicture}
\end{document}
